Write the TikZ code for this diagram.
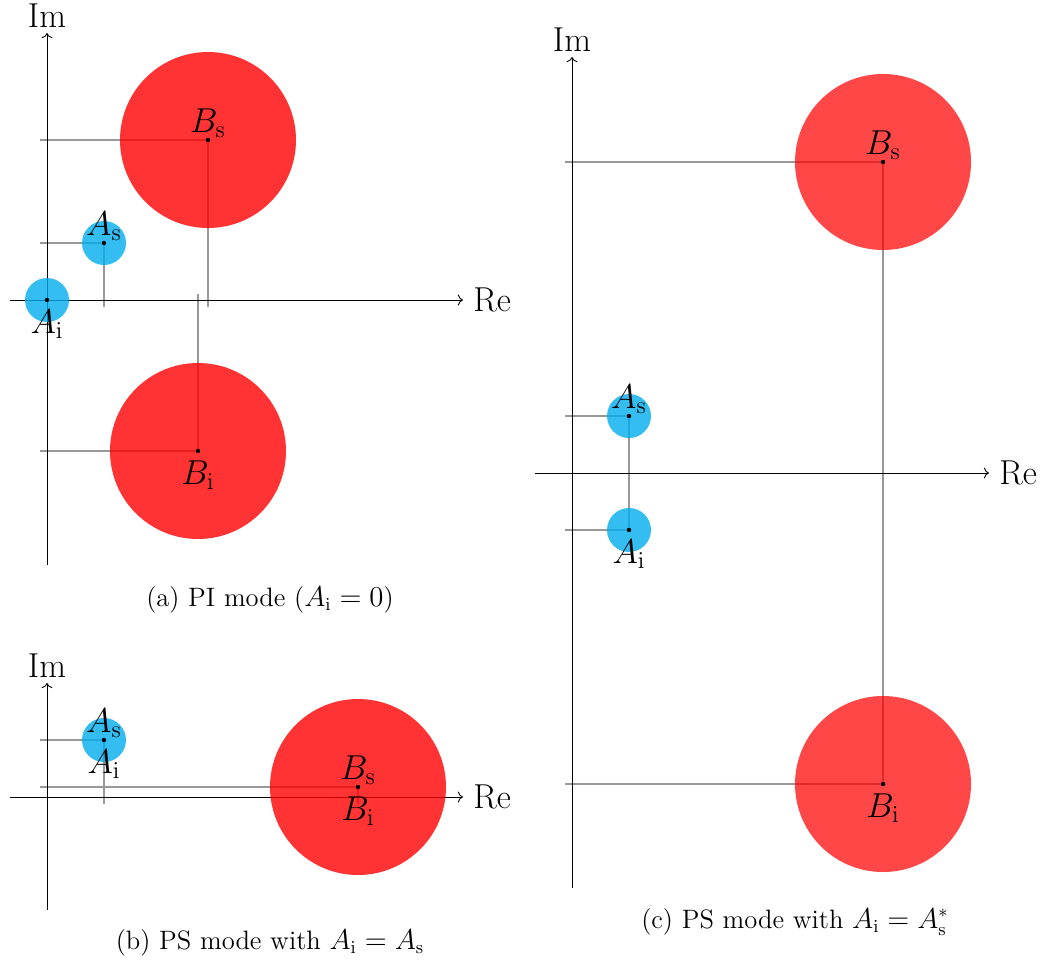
\documentclass[tikz,border=0pt]{standalone}
\usetikzlibrary{arrows.meta}
\definecolor{blobred}{RGB}{255,0,0}
\definecolor{blobcyan}{RGB}{0,172,237}
\newcommand{\lblfont}{\fontsize{17.3}{20}\selectfont}
\newcommand{\capfont}{\fontsize{13.3}{16}\selectfont}
\begin{document}
\begin{tikzpicture}[x=0.5pt,y=-0.5pt,
  axis/.style={->, black, line width=0.45pt},
  guide/.style={gray!80, line width=0.55pt},
  redblob/.style={fill=blobred, fill opacity=0.8},
  redblobc/.style={fill=blobred, fill opacity=0.72},
  cyanblob/.style={fill=blobcyan, fill opacity=0.8},
  axlabel/.style={font=\lblfont, inner sep=5pt},
  imlabel/.style={font=\lblfont, inner sep=2.5pt, anchor=south},
  ptlabup/.style={font=\lblfont, anchor=south, inner sep=1.2pt},
  ptlabdown/.style={font=\lblfont, anchor=north, inner sep=4.5pt},
  caption/.style={font=\capfont, inner sep=0pt},
  dot/.style={fill=black}]
\useasboundingbox (0,0) rectangle (1047,963);

% ---------------- panel (a) ----------------
\coordinate (aReL) at (10,300);
\coordinate (aReR) at (463,300);
\coordinate (aImB) at (47,565);
\coordinate (aImT) at (47,33);
\coordinate (aAi) at (47,300);
\coordinate (aAs) at (104,243);
\coordinate (aBs) at (208,140);
\coordinate (aBi) at (198,451);
\coordinate (aAsH) at (40,243);
\coordinate (aAsV) at (104,307);
\coordinate (aBsH) at (40,140);
\coordinate (aBsV) at (208,307);
\coordinate (aBiH) at (40,451);
\coordinate (aBiV) at (198,294);
\draw[guide] (aAsH) -- (aAs) -- (aAsV);
\draw[guide] (aBsH) -- (aBs) -- (aBsV);
\draw[guide] (aBiH) -- (aBi) -- (aBiV);
\draw[axis] (aReL) -- (aReR);
\draw[axis] (aImB) -- (aImT);
\node[axlabel, anchor=west] (aRe) at (aReR) {Re};
\node[imlabel] (aIm) at (aImT) {Im};
\fill[cyanblob] (aAi) circle[radius=11pt];
\fill[cyanblob] (aAs) circle[radius=11pt];
\fill[redblob] (aBs) circle[radius=44pt];
\fill[redblob] (aBi) circle[radius=44pt];
\fill[dot] (aAi) circle[radius=1.1pt];
\fill[dot] (aAs) circle[radius=1.1pt];
\fill[dot] (aBs) circle[radius=1.1pt];
\fill[dot] (aBi) circle[radius=1.1pt];
\node[ptlabdown] (aAiL) at (aAi) {$A_\mathrm{i}$};
\node[ptlabup] (aAsL) at (aAs) {$A_\mathrm{s}$};
\node[ptlabup] (aBsL) at (aBs) {$B_\mathrm{s}$};
\node[ptlabdown] (aBiL) at (aBi) {$B_\mathrm{i}$};
\node[caption] (aCap) at (270,600) {(a) PI mode ($A_\mathrm{i}=0$)};

% ---------------- panel (b) ----------------
\coordinate (bReL) at (10,797);
\coordinate (bReR) at (463,797);
\coordinate (bImB) at (47,910);
\coordinate (bImT) at (47,683);
\coordinate (bA) at (104,740);
\coordinate (bB) at (358,787);
\coordinate (bAH) at (40,740);
\coordinate (bAV) at (104,804);
\coordinate (bBH) at (40,787);
\coordinate (bBV) at (358,804);
\draw[guide] (bAH) -- (bA) -- (bAV);
\draw[guide] (bBH) -- (bB) -- (bBV);
\draw[axis] (bReL) -- (bReR);
\draw[axis] (bImB) -- (bImT);
\node[axlabel, anchor=west] (bRe) at (bReR) {Re};
\node[imlabel] (bIm) at (bImT) {Im};
\fill[cyanblob] (bA) circle[radius=11pt];
\fill[redblob] (bB) circle[radius=44pt];
\fill[dot] (bA) circle[radius=1.1pt];
\fill[dot] (bB) circle[radius=1.1pt];
\node[ptlabup] (bAsL) at (bA) {$A_\mathrm{s}$};
\node[ptlabdown] (bAiL) at (bA) {$A_\mathrm{i}$};
\node[ptlabup] (bBsL) at (bB) {$B_\mathrm{s}$};
\node[ptlabdown] (bBiL) at (bB) {$B_\mathrm{i}$};
\node[caption] (bCap) at (270,943) {(b) PS mode with $A_\mathrm{i}=A_\mathrm{s}$};

% ---------------- panel (c) ----------------
\coordinate (cReL) at (535,473);
\coordinate (cReR) at (989,473);
\coordinate (cImB) at (572,888);
\coordinate (cImT) at (572,57);
\coordinate (cAs) at (629,416);
\coordinate (cAi) at (629,530);
\coordinate (cBs) at (883,162);
\coordinate (cBi) at (883,784);
\coordinate (cAsH) at (565,416);
\coordinate (cAiH) at (565,530);
\coordinate (cBsH) at (565,162);
\coordinate (cBiH) at (565,784);
\draw[guide] (cAsH) -- (cAs) -- (cAi) -- (cAiH);
\draw[guide] (cBsH) -- (cBs) -- (cBi) -- (cBiH);
\draw[axis] (cReL) -- (cReR);
\draw[axis] (cImB) -- (cImT);
\node[axlabel, anchor=west] (cRe) at (cReR) {Re};
\node[imlabel] (cIm) at (cImT) {Im};
\fill[cyanblob] (cAs) circle[radius=11pt];
\fill[cyanblob] (cAi) circle[radius=11pt];
\fill[redblobc] (cBs) circle[radius=44pt];
\fill[redblobc] (cBi) circle[radius=44pt];
\fill[dot] (cAs) circle[radius=1.1pt];
\fill[dot] (cAi) circle[radius=1.1pt];
\fill[dot] (cBs) circle[radius=1.1pt];
\fill[dot] (cBi) circle[radius=1.1pt];
\node[ptlabup] (cAsL) at (cAs) {$A_\mathrm{s}$};
\node[ptlabdown] (cAiL) at (cAi) {$A_\mathrm{i}$};
\node[ptlabup] (cBsL) at (cBs) {$B_\mathrm{s}$};
\node[ptlabdown] (cBiL) at (cBi) {$B_\mathrm{i}$};
\node[caption] (cCap) at (795,922) {(c) PS mode with $A_\mathrm{i}=A_\mathrm{s}^*$};
\end{tikzpicture}
\end{document}
